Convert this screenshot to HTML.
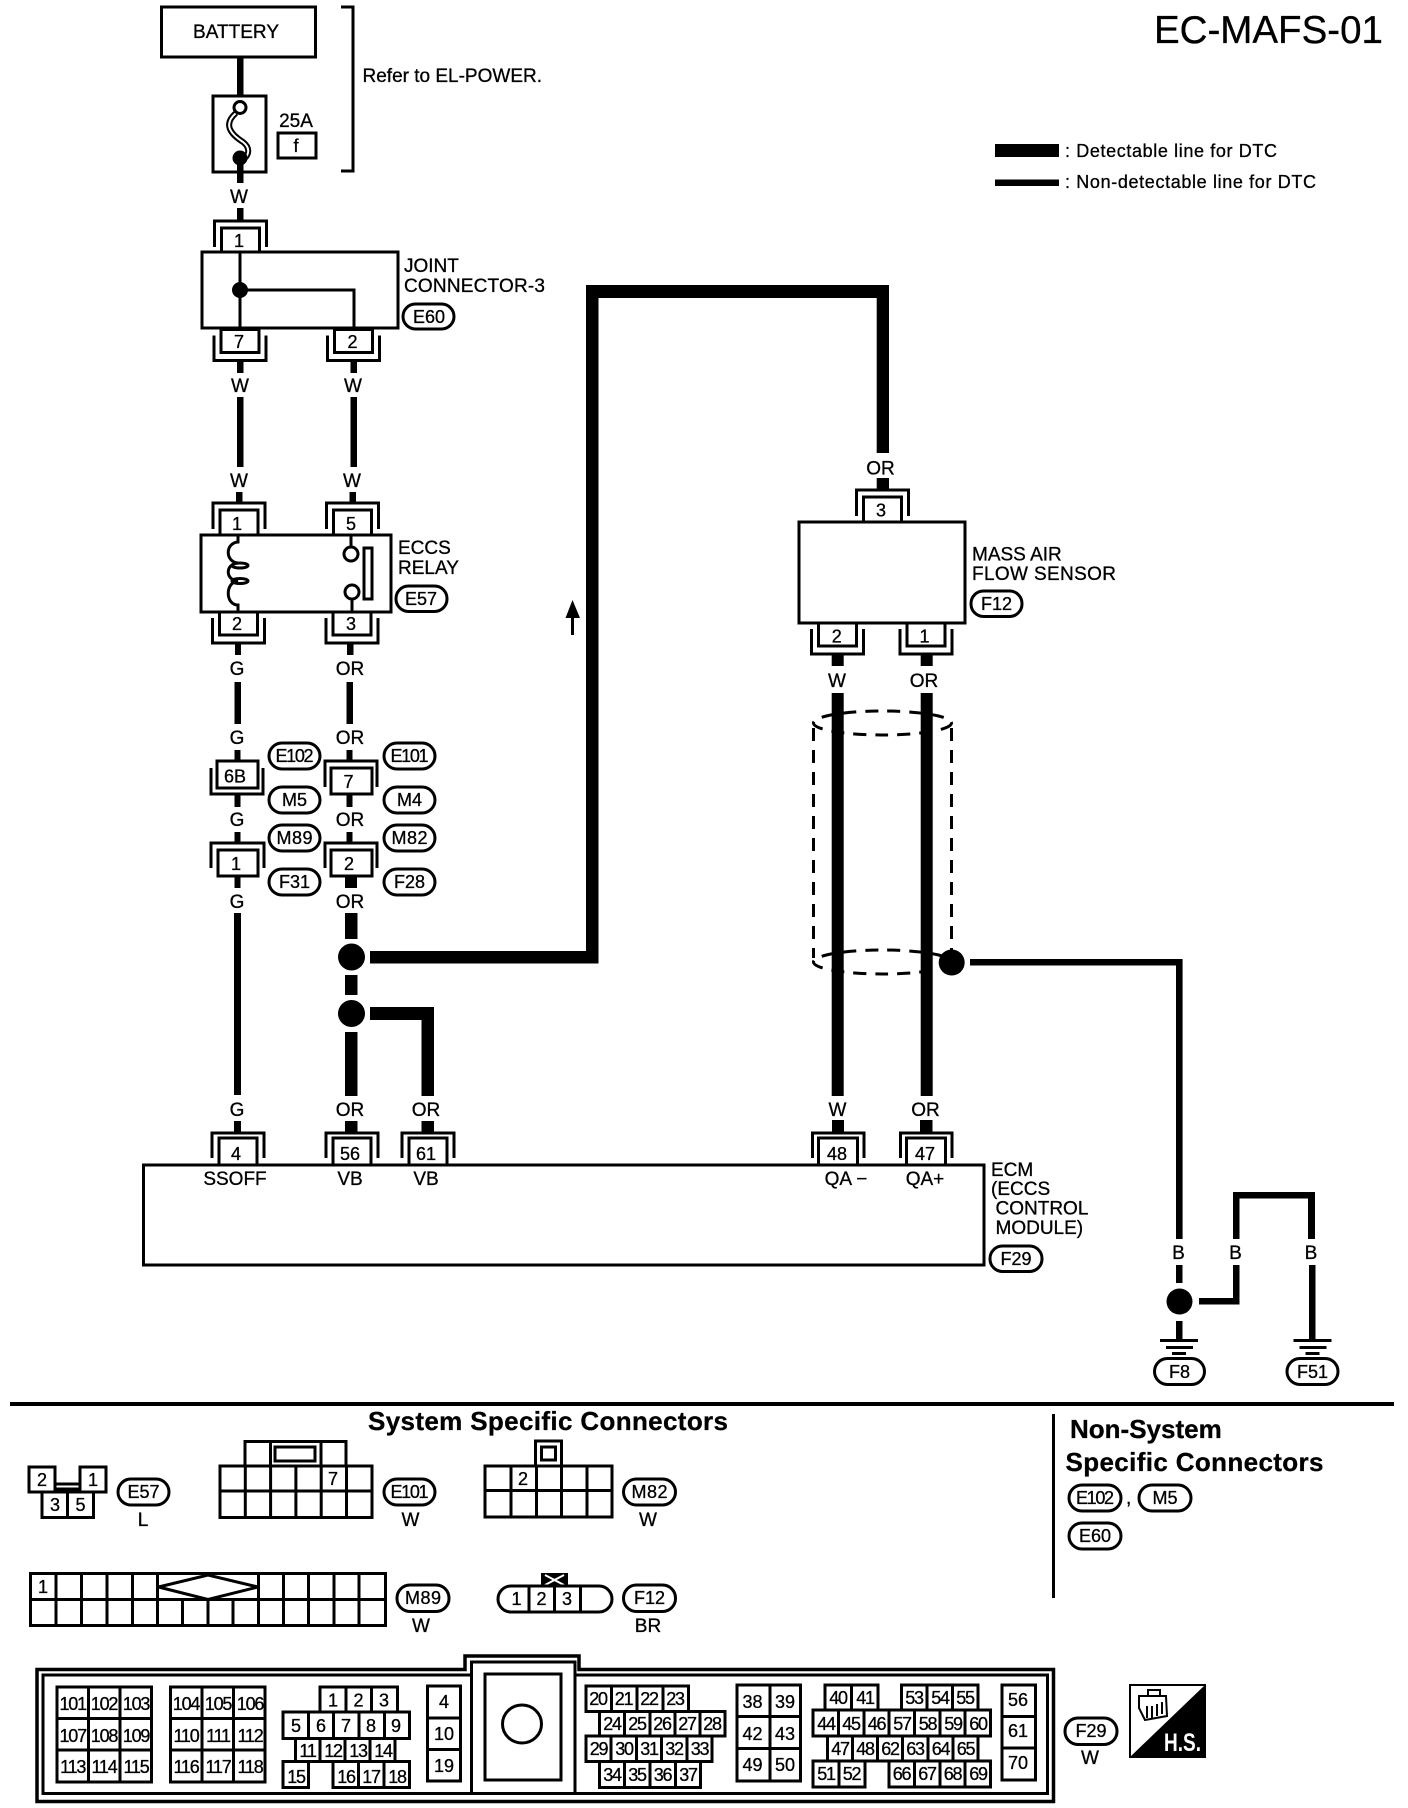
<!DOCTYPE html>
<html><head><meta charset="utf-8"><title>EC-MAFS-01</title>
<style>
html,body{margin:0;padding:0;background:#fff}
svg{display:block}
text{font-family:"Liberation Sans",Arial,sans-serif;font-size:19px;fill:#000;stroke:#000;stroke-width:.3px}
.c{text-anchor:middle}
.n{font-size:18px;text-anchor:middle}
.s{font-size:18px;text-anchor:middle;letter-spacing:-1.2px}
.b{font-weight:bold;font-size:26px}
.p{fill:#fff;stroke:#000;stroke-width:3}
.g{fill:#fff;stroke:#000;stroke-width:3}
.l{fill:none;stroke:#000;stroke-width:3}
.k{fill:#000;stroke:none}
</style></head><body>
<svg xmlns="http://www.w3.org/2000/svg" width="1408" height="1808" viewBox="0 0 1408 1808">
<defs>
<g id="ct"><path class="l" d="M-26 26V0H26V26"/><rect class="g" x="-19" y="7" width="38" height="25"/></g>
<g id="cb"><path class="l" d="M-26 -25V0H26V-25"/><rect class="g" x="-19" y="-31" width="38" height="23"/></g>
</defs>
<rect width="1408" height="1808" fill="#fff"/>

<!-- title and legend -->
<text x="1154" y="43" style="font-size:38.5px">EC-MAFS-01</text>
<rect class="k" x="995" y="144" width="64" height="13"/>
<text x="1065" y="157" style="font-size:18px" textLength="212">: Detectable line for DTC</text>
<rect class="k" x="995" y="179.5" width="64" height="6.5"/>
<text x="1065" y="188" style="font-size:18px" textLength="251">: Non-detectable line for DTC</text>

<!-- battery and fuse -->
<rect class="l" x="161.5" y="7" width="154" height="50"/>
<text class="c" x="236" y="38" textLength="86">BATTERY</text>
<rect class="k" x="237" y="57" width="6.5" height="39"/>
<rect class="l" x="213" y="96" width="53" height="76"/>
<path d="M236 113C222 125 232 135 243 142C252 149 248 158 241 160" fill="none" stroke="#000" stroke-width="6"/>
<path d="M236 113C222 125 232 135 243 142C252 149 248 158 241 160" fill="none" stroke="#fff" stroke-width="2"/>
<circle cx="240" cy="107.5" r="6" fill="#fff" stroke="#000" stroke-width="3"/>
<circle cx="240" cy="158" r="7.5" class="k"/>
<rect class="k" x="237" y="158" width="6.5" height="25"/>
<text class="c" x="239" y="203">W</text>
<rect class="k" x="237" y="208" width="6.5" height="13"/>
<text class="c" x="296" y="127" >25A</text>
<rect class="l" x="278" y="133" width="38" height="25"/>
<text class="n" x="296" y="152">f</text>
<path class="l" d="M341 7H353V171H341"/>
<text x="362.5" y="82">Refer to EL-POWER.</text>

<!-- joint connector -->
<use href="#ct" x="240.5" y="221"/><text class="n" x="239" y="247">1</text>
<rect class="g" x="202" y="252" width="196" height="76"/>
<path class="l" d="M240 252V328M240 290H354V328"/>
<circle cx="240" cy="290" r="8" class="k"/>
<use href="#cb" x="240" y="360.5"/><text class="n" x="239" y="348">7</text>
<use href="#cb" x="353.5" y="360.5"/><text class="n" x="352.5" y="348">2</text>
<text x="404" y="272">JOINT</text>
<text x="404" y="292" textLength="141">CONNECTOR-3</text>
<rect class="p" x="403" y="304" width="51" height="25" rx="12.5"/>
<text class="c" x="429" y="323" style="font-size:18px">E60</text>
<rect class="k" x="237" y="360" width="6.5" height="13"/><rect class="k" x="350.5" y="360" width="6.5" height="13"/>
<text class="c" x="240" y="392">W</text><text class="c" x="353" y="392">W</text>
<rect class="k" x="237" y="397" width="6.5" height="70"/><rect class="k" x="350.5" y="397" width="6.5" height="70"/>
<text class="c" x="239" y="487">W</text><text class="c" x="352" y="487">W</text>
<rect class="k" x="236" y="492" width="6.5" height="11"/><rect class="k" x="349.5" y="492" width="6.5" height="11"/>

<!-- relay -->
<use href="#ct" x="239" y="503"/><text class="n" x="237" y="530">1</text>
<use href="#ct" x="352.5" y="503"/><text class="n" x="351" y="530">5</text>
<rect class="g" x="201" y="535" width="190" height="77"/>
<path class="l" d="M238 535V542C225 543 225 562 238 563C225 564 225 580 238 581C225 582 225 605 238 605V612"/>
<ellipse cx="240" cy="565.5" rx="8" ry="2.5" class="l"/><ellipse cx="240" cy="581" rx="8" ry="2.5" class="l"/>
<path class="l" d="M351 535V548M352 598V612"/>
<circle cx="351" cy="554" r="7" class="p"/><circle cx="352" cy="592" r="7" class="p"/>
<rect class="l" x="364" y="548" width="8" height="51"/>
<text x="398" y="554">ECCS</text><text x="398" y="574">RELAY</text>
<rect class="p" x="396" y="586" width="51" height="25.5" rx="12.5"/>
<text class="c" x="421" y="605" style="font-size:18px">E57</text>
<use href="#cb" x="238.5" y="643"/><text class="n" x="237" y="630">2</text>
<use href="#cb" x="352" y="643"/><text class="n" x="351" y="630">3</text>
<rect class="k" x="235" y="643" width="6" height="12"/><rect class="k" x="347" y="643" width="6.5" height="12"/>
<text class="c" x="237" y="675">G</text><text class="c" x="350" y="675">OR</text>
<rect class="k" x="234.5" y="682" width="6.5" height="42"/><rect class="k" x="346.5" y="682" width="6.5" height="42"/>
<text class="c" x="237" y="744">G</text><text class="c" x="350" y="744">OR</text>
<rect class="k" x="234.5" y="750" width="6" height="11"/><rect class="k" x="346.5" y="750" width="6" height="11"/>

<!-- in-line connectors -->
<path class="l" d="M211 768V794H263V768"/><rect class="g" x="217" y="761" width="41" height="27"/>
<text class="n" x="235" y="782.5">6B</text>
<path class="l" d="M325 787V761H377V787"/><rect class="g" x="331" y="768" width="41" height="26"/>
<text class="n" x="348.5" y="788">7</text>
<rect class="k" x="234.5" y="794" width="6" height="13"/><rect class="k" x="346.5" y="794" width="6" height="13"/>
<text class="c" x="237" y="826">G</text><text class="c" x="350" y="826">OR</text>
<rect class="k" x="234.5" y="832" width="6" height="11"/><rect class="k" x="346.5" y="832" width="6" height="11"/>
<path class="l" d="M211 868V843H264V868"/><rect class="g" x="218" y="850" width="40" height="26"/>
<text class="n" x="236" y="870">1</text>
<path class="l" d="M325 868V843H377V868"/><rect class="g" x="331" y="850" width="41" height="26"/>
<text class="n" x="349" y="870">2</text>
<rect class="k" x="234.5" y="876" width="6" height="12"/><rect class="k" x="345" y="876" width="12" height="12"/>
<text class="c" x="237" y="908">G</text><text class="c" x="350" y="908">OR</text>
<rect class="p" x="269" y="743" width="51" height="26" rx="13"/><text class="c" x="294.5" y="762" style="font-size:18px" textLength="38">E102</text>
<rect class="p" x="384" y="743" width="51" height="26" rx="13"/><text class="c" x="409.5" y="762" style="font-size:18px" textLength="38">E101</text>
<rect class="p" x="269" y="787" width="51" height="26" rx="13"/><text class="c" x="294.5" y="806" style="font-size:18px">M5</text>
<rect class="p" x="384" y="787" width="51" height="26" rx="13"/><text class="c" x="409.5" y="806" style="font-size:18px">M4</text>
<rect class="p" x="269" y="825" width="51" height="26" rx="13"/><text class="c" x="294.5" y="844" style="font-size:18px" textLength="36">M89</text>
<rect class="p" x="384" y="825" width="51" height="26" rx="13"/><text class="c" x="409.5" y="844" style="font-size:18px" textLength="36">M82</text>
<rect class="p" x="269" y="869" width="51" height="26" rx="13"/><text class="c" x="294.5" y="888" style="font-size:18px">F31</text>
<rect class="p" x="384" y="869" width="51" height="26" rx="13"/><text class="c" x="409.5" y="888" style="font-size:18px">F28</text>

<!-- lower wires -->
<rect class="k" x="234" y="913" width="7" height="182"/>
<rect class="k" x="345" y="913" width="12.5" height="26"/>
<circle cx="351.5" cy="957" r="13.5" class="k"/>
<path class="k" d="M370 951H586V285H889V453H876.7V298H598.5V963.5H370Z"/>
<rect class="k" x="345" y="975" width="12.5" height="20"/>
<circle cx="351.5" cy="1013.5" r="13.5" class="k"/>
<rect class="k" x="345" y="1032" width="12.5" height="64"/>
<path class="k" d="M370 1007H434V1096H421.5V1020H370Z"/>
<path class="k" d="M572.5 600L580 618H574V635H571V618H565.5Z"/>
<text class="c" x="237" y="1116">G</text><text class="c" x="350" y="1116">OR</text><text class="c" x="426" y="1116">OR</text>
<rect class="k" x="234" y="1121" width="7" height="12"/><rect class="k" x="345" y="1121" width="12.5" height="12"/><rect class="k" x="421.5" y="1121" width="12.5" height="12"/>

<!-- MAF sensor -->
<text class="c" x="880.5" y="474.5">OR</text>
<rect class="k" x="876.7" y="478" width="12.3" height="12"/>
<use href="#ct" x="882.5" y="490"/><text class="n" x="881" y="516.5">3</text>
<rect class="g" x="799" y="522" width="166" height="101"/>
<text x="972" y="560.5">MASS AIR</text><text x="972" y="580" textLength="144">FLOW SENSOR</text>
<rect class="p" x="971" y="591" width="51" height="25.5" rx="12.5"/><text class="c" x="996.5" y="610" style="font-size:18px">F12</text>
<use href="#cb" x="837.5" y="654"/><text class="n" x="836.7" y="642.5">2</text>
<use href="#cb" x="926" y="654"/><text class="n" x="924.5" y="642.5">1</text>
<rect class="k" x="831.7" y="654" width="12" height="12"/><rect class="k" x="920.7" y="654" width="12" height="12"/>
<text class="c" x="837" y="687">W</text><text class="c" x="924" y="687">OR</text>

<!-- shield -->
<g fill="none" stroke="#000" stroke-width="3" stroke-dasharray="13 9">
<ellipse cx="882.5" cy="723" rx="69" ry="12"/>
<ellipse cx="882.5" cy="962" rx="69" ry="12"/>
<path d="M813.5 728V958M951.5 728V958"/>
</g>
<rect class="k" x="831.7" y="693" width="12" height="403"/><rect class="k" x="920.7" y="693" width="12" height="403"/>
<circle cx="951.7" cy="962.5" r="13" class="k"/>
<path class="k" d="M970 959H1182.6V1239H1176V965.5H970Z"/>

<!-- ECM -->
<text class="c" x="837.5" y="1116">W</text><text class="c" x="925.5" y="1116">OR</text>
<rect class="k" x="832" y="1120" width="12" height="13"/><rect class="k" x="920" y="1120" width="12.5" height="13"/>
<rect class="g" x="143.5" y="1165" width="840.5" height="100"/>
<g>
<path class="l" d="M212 1158V1133H264V1158M326 1158V1133H378V1158M402 1158V1133H454V1158M812.5 1158V1133H864V1158M900.5 1158V1133H952V1158"/>
<rect class="g" x="219" y="1138" width="38" height="27"/><rect class="g" x="333" y="1138" width="38" height="27"/><rect class="g" x="409" y="1138" width="38" height="27"/><rect class="g" x="818.5" y="1138" width="39" height="27"/><rect class="g" x="906.5" y="1138" width="39" height="27"/>
</g>
<text class="n" x="236" y="1160">4</text><text class="n" x="350" y="1160">56</text><text class="n" x="426" y="1160">61</text><text class="n" x="837" y="1160">48</text><text class="n" x="925" y="1160">47</text>
<text class="c" x="235" y="1185">SSOFF</text><text class="c" x="350" y="1185">VB</text><text class="c" x="426" y="1185">VB</text>
<text class="c" x="846" y="1185">QA −</text><text class="c" x="925" y="1185">QA+</text>
<text x="991" y="1176">ECM</text><text x="991" y="1195">(ECCS</text><text x="995.5" y="1214.5">CONTROL</text><text x="995.5" y="1234">MODULE)</text>
<rect class="p" x="990" y="1246" width="52" height="25.5" rx="12.5"/><text class="c" x="1016" y="1265" style="font-size:18px">F29</text>

<!-- grounds -->
<text class="c" x="1178.5" y="1259">B</text><text class="c" x="1235.5" y="1259">B</text><text class="c" x="1311" y="1259">B</text>
<rect class="k" x="1176" y="1265" width="6.5" height="18"/>
<circle cx="1179.5" cy="1301.5" r="13" class="k"/>
<path class="k" d="M1199 1298H1233V1265H1239.5V1304.5H1199Z"/>
<path class="k" d="M1233 1239V1192H1315V1239H1308V1198.5H1239.5V1239Z"/>
<rect class="k" x="1176" y="1321" width="6.5" height="18"/><rect class="k" x="1309" y="1265" width="6.5" height="74"/>
<path class="k" d="M1160 1339h38v3h-38zM1166 1346h27v3h-27zM1172 1352h14v3h-14zM1293.5 1339h38v3h-38zM1299.5 1346h27v3h-27zM1305.5 1352h14v3h-14z"/>
<rect class="p" x="1154.5" y="1358.5" width="50" height="26" rx="13"/><text class="c" x="1179.5" y="1378" style="font-size:18px">F8</text>
<rect class="p" x="1287" y="1358.5" width="51" height="26" rx="13"/><text class="c" x="1312.5" y="1378" style="font-size:18px">F51</text>

<g transform="translate(0 -6)">
<!-- separators -->
<rect class="k" x="10" y="1408" width="1384" height="4"/>
<rect class="k" x="1052" y="1420" width="3" height="184"/>
<text class="b" x="368" y="1436" textLength="360">System Specific Connectors</text>
<text class="b" x="1070" y="1444">Non-System</text>
<text class="b" x="1065.5" y="1477" textLength="258">Specific Connectors</text>
<rect class="p" x="1069" y="1491" width="52" height="26" rx="13"/><text class="c" x="1095" y="1510" style="font-size:18px" textLength="38">E102</text>
<text x="1126" y="1510">,</text>
<rect class="p" x="1139" y="1491" width="52" height="26" rx="13"/><text class="c" x="1165" y="1510" style="font-size:18px">M5</text>
<rect class="p" x="1069" y="1529" width="52" height="26" rx="13"/><text class="c" x="1095" y="1548" style="font-size:18px">E60</text>

<!-- E57 connector -->
<path class="l" d="M55 1490H80M55 1495H80"/>
<rect class="g" x="29" y="1473" width="26" height="25"/><rect class="g" x="80" y="1473" width="26" height="25"/>
<rect class="g" x="42" y="1498" width="25.5" height="25.5"/><rect class="g" x="67.5" y="1498" width="26" height="25.5"/>
<text class="n" x="42" y="1492">2</text><text class="n" x="93" y="1492">1</text><text class="n" x="55" y="1517">3</text><text class="n" x="80.5" y="1517">5</text>
<rect class="p" x="118" y="1485" width="51" height="26" rx="13"/><text class="c" x="143.5" y="1504" style="font-size:18px">E57</text>
<text class="c" x="143" y="1532">L</text>

<!-- E101 connector -->
<rect class="g" x="245" y="1447.5" width="101" height="25"/>
<path class="l" d="M270.5 1447.5V1472.5M321 1447.5V1472.5"/>
<rect class="l" x="275" y="1453" width="40" height="14"/>
<rect class="g" x="220" y="1472" width="152" height="51.5"/>
<path class="l" d="M220 1497H372M245.3 1472V1523.5M270.6 1472V1523.5M295.9 1472V1523.5M321.2 1472V1523.5M346.5 1472V1523.5"/>
<text class="n" x="333" y="1491">7</text>
<rect class="p" x="384" y="1485" width="51" height="26" rx="13"/><text class="c" x="409.5" y="1504" style="font-size:18px" textLength="38">E101</text>
<text class="c" x="410.5" y="1532">W</text>

<!-- M82 connector -->
<rect class="g" x="535.5" y="1447" width="26" height="25"/>
<rect class="l" x="541.5" y="1453" width="14" height="13"/>
<rect class="g" x="485" y="1472" width="127" height="51"/>
<path class="l" d="M485 1496.5H612M511 1472V1523M536.5 1472V1523M561.5 1472V1523M587 1472V1523"/>
<text class="n" x="523" y="1491">2</text>
<rect class="p" x="623.5" y="1485" width="52" height="26" rx="13"/><text class="c" x="649.5" y="1504" style="font-size:18px" textLength="36">M82</text>
<text class="c" x="648" y="1532">W</text>

<!-- M89 connector -->
<rect class="g" x="30.5" y="1579.5" width="355" height="52"/>
<path class="l" d="M30.5 1605.5H385.5M56 1579.5V1631.5M81.5 1579.5V1631.5M107 1579.5V1631.5M132.5 1579.5V1631.5M157.5 1579.5V1631.5M182.5 1605.5V1631.5M208 1605.5V1631.5M233 1605.5V1631.5M258.5 1579.5V1631.5M283.5 1579.5V1631.5M308.5 1579.5V1631.5M334 1579.5V1631.5M359 1579.5V1631.5"/>
<path class="l" d="M158.5 1593L208 1581L258 1593L208 1605.5Z"/>
<text class="n" x="43" y="1599">1</text>
<rect class="p" x="397" y="1591" width="52" height="26.5" rx="13"/><text class="c" x="423" y="1610" style="font-size:18px" textLength="36">M89</text>
<text class="c" x="421" y="1638">W</text>

<!-- F12 connector -->
<rect class="k" x="541" y="1579" width="27" height="13"/>
<path d="M545 1581L564 1591M564 1581L545 1591" stroke="#fff" stroke-width="2"/>
<rect class="g" x="498" y="1592" width="114" height="26" rx="13"/>
<path class="l" d="M529 1592V1618M554.5 1592V1618M580.5 1592V1618"/>
<text class="n" x="516.5" y="1611">1</text><text class="n" x="541.5" y="1611">2</text><text class="n" x="567" y="1611">3</text>
<rect class="p" x="623.5" y="1591" width="52" height="26.5" rx="13"/><text class="c" x="649.5" y="1610" style="font-size:18px">F12</text>
<text class="c" x="648" y="1638">BR</text>

<!-- F29 connector frame -->
<path class="l" d="M37 1675.5H465V1662H579V1675.5H1053.5V1807.5H37Z" style="stroke-width:3.5"/>
<path class="l" d="M43 1681H471.5V1668H575V1681H1047.5V1799.5H43Z"/>
<path class="l" d="M471.5 1668V1799.5M575 1668V1799.5"/>
<rect class="l" x="485" y="1680" width="76" height="106"/>
<ellipse cx="522" cy="1730" rx="19.5" ry="19" class="l"/>

<!-- block A -->
<rect class="g" x="57" y="1693" width="94.5" height="95"/>
<path class="l" d="M57 1724.5H151.5M57 1756H151.5M88.5 1693V1788M120 1693V1788"/>
<text class="s" x="72.7" y="1716">101</text><text class="s" x="104" y="1716">102</text><text class="s" x="136" y="1716">103</text>
<text class="s" x="72.7" y="1748">107</text><text class="s" x="104" y="1748">108</text><text class="s" x="136" y="1748">109</text>
<text class="s" x="72.7" y="1779">113</text><text class="s" x="104" y="1779">114</text><text class="s" x="136" y="1779">115</text>
<!-- block B -->
<rect class="g" x="170.5" y="1693" width="94.5" height="95"/>
<path class="l" d="M170.5 1724.5H265M170.5 1756H265M202 1693V1788M233.5 1693V1788"/>
<text class="s" x="186" y="1716">104</text><text class="s" x="218" y="1716">105</text><text class="s" x="250" y="1716">106</text>
<text class="s" x="186" y="1748">110</text><text class="s" x="218" y="1748">111</text><text class="s" x="250" y="1748">112</text>
<text class="s" x="186" y="1779">116</text><text class="s" x="218" y="1779">117</text><text class="s" x="250" y="1779">118</text>
<!-- block C -->
<rect class="g" x="320" y="1693" width="77.5" height="25"/><path class="l" d="M346 1693V1718M371.5 1693V1718"/>
<rect class="g" x="283" y="1718" width="126.5" height="26.5"/><path class="l" d="M308.5 1718V1744.5M333.5 1718V1744.5M359 1718V1744.5M384.5 1718V1744.5"/>
<rect class="g" x="295.5" y="1744.5" width="99.5" height="23"/><path class="l" d="M320 1744.5V1767.5M345 1744.5V1767.5M370 1744.5V1767.5"/>
<rect class="g" x="283" y="1767.5" width="25.5" height="26"/>
<rect class="g" x="333" y="1767.5" width="76.5" height="26"/><path class="l" d="M358.5 1767.5V1793.5M384 1767.5V1793.5"/>
<text class="n" x="333" y="1712.5">1</text><text class="n" x="358.5" y="1712.5">2</text><text class="n" x="384" y="1712.5">3</text>
<text class="n" x="296" y="1738">5</text><text class="n" x="321" y="1738">6</text><text class="n" x="346" y="1738">7</text><text class="n" x="371" y="1738">8</text><text class="n" x="396" y="1738">9</text>
<text class="s" x="307.5" y="1763">11</text><text class="s" x="333" y="1763">12</text><text class="s" x="358" y="1763">13</text><text class="s" x="383" y="1763">14</text>
<text class="s" x="296" y="1789">15</text><text class="s" x="346" y="1789">16</text><text class="s" x="371" y="1789">17</text><text class="s" x="397" y="1789">18</text>
<!-- block D -->
<rect class="g" x="427.5" y="1692" width="33" height="95"/><path class="l" d="M427.5 1724H460.5M427.5 1755.5H460.5"/>
<text class="n" x="444" y="1714">4</text><text class="n" x="444" y="1746">10</text><text class="n" x="444" y="1778">19</text>
<!-- block E -->
<rect class="g" x="586" y="1692" width="102.5" height="25.5"/><path class="l" d="M611.5 1692V1717.5M637 1692V1717.5M663 1692V1717.5"/>
<rect class="g" x="599.5" y="1717.5" width="125.5" height="24.5"/><path class="l" d="M624.5 1717.5V1742M650 1717.5V1742M675 1717.5V1742M700 1717.5V1742"/>
<rect class="g" x="586" y="1742" width="126" height="25.5"/><path class="l" d="M611 1742V1767.5M636.5 1742V1767.5M661.5 1742V1767.5M687 1742V1767.5"/>
<rect class="g" x="599.5" y="1767.5" width="101" height="26"/><path class="l" d="M624.5 1767.5V1793.5M650 1767.5V1793.5M675.5 1767.5V1793.5"/>
<text class="s" x="598" y="1711">20</text><text class="s" x="623.5" y="1711">21</text><text class="s" x="649" y="1711">22</text><text class="s" x="675" y="1711">23</text>
<text class="s" x="612" y="1736">24</text><text class="s" x="637" y="1736">25</text><text class="s" x="662" y="1736">26</text><text class="s" x="687" y="1736">27</text><text class="s" x="712" y="1736">28</text>
<text class="s" x="598.5" y="1761">29</text><text class="s" x="624" y="1761">30</text><text class="s" x="649" y="1761">31</text><text class="s" x="674" y="1761">32</text><text class="s" x="699.5" y="1761">33</text>
<text class="s" x="612" y="1787">34</text><text class="s" x="637" y="1787">35</text><text class="s" x="662.5" y="1787">36</text><text class="s" x="688" y="1787">37</text>
<!-- block F -->
<rect class="g" x="737" y="1691" width="63.5" height="96"/><path class="l" d="M770 1691V1787M737 1722.5H800.5M737 1754.5H800.5"/>
<text class="n" x="752.5" y="1714">38</text><text class="n" x="785" y="1714">39</text><text class="n" x="752.5" y="1746">42</text><text class="n" x="785" y="1746">43</text><text class="n" x="752.5" y="1777">49</text><text class="n" x="785" y="1777">50</text>
<!-- block G -->
<rect class="g" x="825" y="1691" width="53" height="25"/><path class="l" d="M851.5 1691V1716"/>
<rect class="g" x="901.5" y="1691" width="76.5" height="25"/><path class="l" d="M927 1691V1716M952.5 1691V1716"/>
<rect class="g" x="813" y="1716" width="177.5" height="26"/><path class="l" d="M838.5 1716V1742M864 1716V1742M889 1716V1742M914.5 1716V1742M940 1716V1742M965 1716V1742"/>
<rect class="g" x="827.5" y="1742" width="150.5" height="25"/><path class="l" d="M852.5 1742V1767M877.5 1742V1767M902.5 1742V1767M928 1742V1767M953 1742V1767"/>
<rect class="g" x="813" y="1767" width="52" height="26"/><path class="l" d="M839 1767V1793"/>
<rect class="g" x="889" y="1767" width="101.5" height="26"/><path class="l" d="M914.5 1767V1793M940 1767V1793M965 1767V1793"/>
<text class="s" x="838" y="1710">40</text><text class="s" x="865" y="1710">41</text><text class="s" x="914" y="1710">53</text><text class="s" x="940" y="1710">54</text><text class="s" x="965" y="1710">55</text>
<text class="s" x="826" y="1736">44</text><text class="s" x="851" y="1736">45</text><text class="s" x="876.5" y="1736">46</text><text class="s" x="902" y="1736">57</text><text class="s" x="927.5" y="1736">58</text><text class="s" x="953" y="1736">59</text><text class="s" x="978" y="1736">60</text>
<text class="s" x="840" y="1761">47</text><text class="s" x="865" y="1761">48</text><text class="s" x="890" y="1761">62</text><text class="s" x="915" y="1761">63</text><text class="s" x="940.5" y="1761">64</text><text class="s" x="965.5" y="1761">65</text>
<text class="s" x="826" y="1786">51</text><text class="s" x="851.5" y="1786">52</text><text class="s" x="901.5" y="1786">66</text><text class="s" x="927" y="1786">67</text><text class="s" x="952.5" y="1786">68</text><text class="s" x="978" y="1786">69</text>
<!-- block H -->
<rect class="g" x="1002" y="1691" width="33.5" height="95"/><path class="l" d="M1002 1722.5H1035.5M1002 1754H1035.5"/>
<text class="n" x="1018" y="1712">56</text><text class="n" x="1018" y="1743">61</text><text class="n" x="1018" y="1775">70</text>
<rect class="p" x="1065" y="1724" width="52" height="26.5" rx="13"/><text class="c" x="1091" y="1743" style="font-size:18px">F29</text>
<text class="c" x="1090" y="1770">W</text>

<!-- HS icon -->
<rect x="1130" y="1691" width="75" height="72" fill="#fff" stroke="#000" stroke-width="2"/>
<path class="k" d="M1205 1691V1763H1130Z"/>
<path d="M1139 1702L1166 1702L1167 1722L1145 1726L1139 1714ZM1148 1696H1160V1702H1148ZM1147 1712V1724M1152 1712V1724M1157 1710V1722M1162 1708V1720" fill="none" stroke="#000" stroke-width="2"/>
<text x="1164" y="1757" style="font-size:25px;font-weight:bold;fill:#fff;stroke:none" textLength="37" lengthAdjust="spacingAndGlyphs">H.S.</text>
</g>
</svg>
</body></html>
